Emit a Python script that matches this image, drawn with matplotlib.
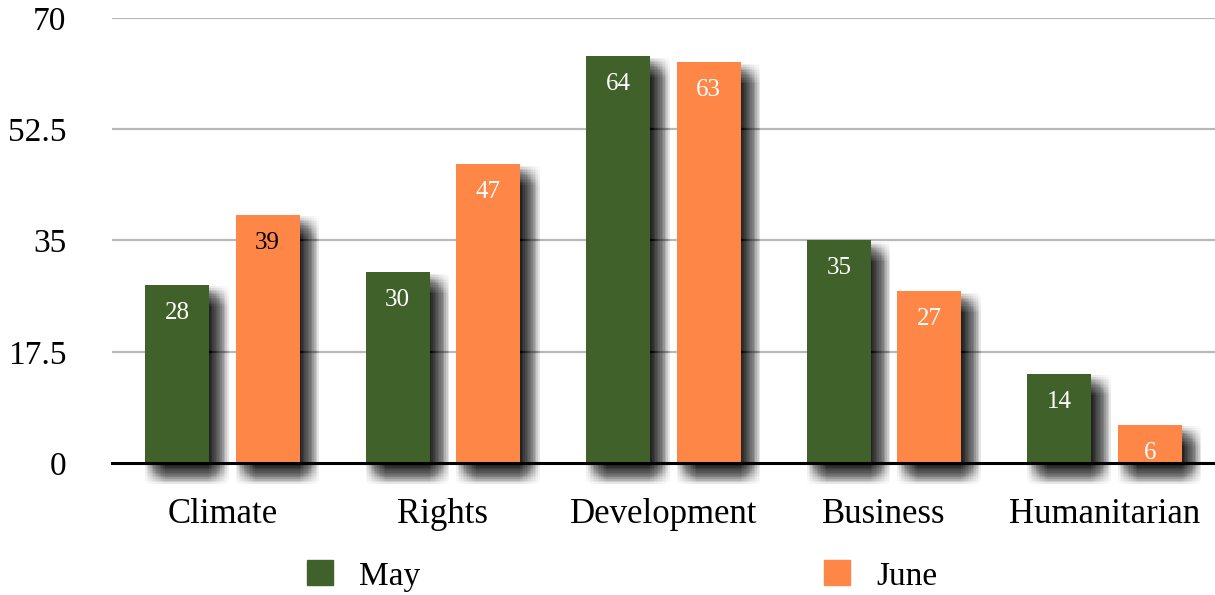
import matplotlib
matplotlib.use("Agg")
import matplotlib.pyplot as plt
import matplotlib.patheffects as pe
from matplotlib.patches import Patch
import numpy as np

categorias = ["Climate", "Rights", "Development", "Business", "Humanitarian"]
mayo = [28, 30, 64, 35, 14]
junio = [39, 47, 63, 27, 6]
yticks = [0, 17.5, 35, 52.5, 70]
ytick_labels = ["0", "17.5", "35", "52.5", "70"]

verde = "#41612a"
naranja = "#fe8647"

plt.rcParams['font.family'] = ['Liberation Serif', 'DejaVu Serif']


def sombra():
    # sombra difusa: muchas copias desplazadas con poca opacidad
    efectos = []
    for dx in np.linspace(-7, 7, 13):
        for dy in np.linspace(-7, 7, 13):
            efectos.append(pe.SimplePatchShadow(offset=(7 + dx, -8 + dy),
                                                shadow_rgbFace='black', alpha=0.0085))
    efectos.append(pe.Normal())
    return efectos


def main():
    fig = plt.figure(figsize=(12.15, 5.95), dpi=100)
    ax = fig.add_axes([0.0922, 0.2218, 0.9078, 0.748])

    x = np.arange(len(categorias))
    ancho = 0.29
    desp = 0.205

    for yv in yticks[1:]:
        ax.axhline(yv, color='#b8b8b8', lw=1.6, zorder=0)
    ax.axhline(0, color='black', lw=2.2, zorder=5, clip_on=False)

    b1 = ax.bar(x - desp, mayo, ancho, color=verde, zorder=2, clip_on=False)
    b2 = ax.bar(x + desp, junio, ancho, color=naranja, zorder=2, clip_on=False)
    for barras in (b1, b2):
        for r in barras:
            r.set_path_effects(sombra())

    for i, v in enumerate(mayo):
        ax.annotate(str(v), (x[i] - desp, v), xytext=(0, -20), textcoords='offset points',
                    ha='center', va='center', color='white', fontsize=18, zorder=6)
    for i, v in enumerate(junio):
        col = 'black' if i == 0 else 'white'
        ax.annotate(str(v), (x[i] + desp, v), xytext=(0, -20), textcoords='offset points',
                    ha='center', va='center', color=col, fontsize=18, zorder=6)

    ax.set_xlim(-0.5, len(categorias) - 0.5)
    ax.set_ylim(0, 70)
    ax.set_xticks(x)
    ax.set_xticklabels(categorias, fontsize=25)
    ax.set_yticks(yticks)
    ax.set_yticklabels(ytick_labels, fontsize=24)
    ax.tick_params(axis='both', length=0)
    ax.tick_params(axis='y', pad=33)
    ax.tick_params(axis='x', pad=25)
    for s in ax.spines.values():
        s.set_visible(False)

    handles = [Patch(color=verde), Patch(color=naranja)]
    fig.legend(handles, ["May", "June"], ncol=2, loc='center',
               bbox_to_anchor=(0.512, 0.032), frameon=False, fontsize=24,
               handlelength=0.78, handleheight=0.78, handletextpad=0.8,
               columnspacing=12.1)

    fig.savefig("out.png", dpi=100)


if __name__ == '__main__':
    main()
